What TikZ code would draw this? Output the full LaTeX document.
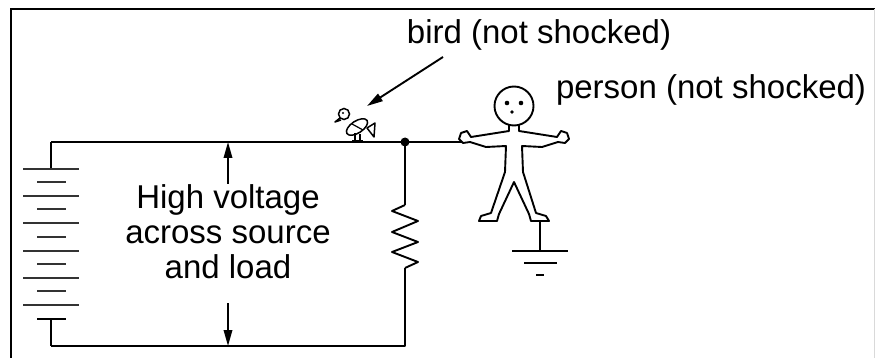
\documentclass[tikz,border=0pt]{standalone}
\usepackage{fontspec}
\setmainfont{Liberation Sans}
\usetikzlibrary{arrows.meta}
\begin{document}
\begin{tikzpicture}[x=1pt,y=-1pt,
  wire/.style={line width=1.9pt, line join=round},
  frameline/.style={line width=2.6pt},
  plate/.style={line width=2.3pt, draw=black!80},
  lbl/.style={font=\fontsize{33}{36}\selectfont, inner sep=0pt, anchor=base},
  tip/.style={-{Triangle[length=16pt,width=8.5pt]}},
  figure/.style={line width=1.9pt, line join=round, fill=white}]
\useasboundingbox (0,0) rectangle (875,358);

% frame
\draw[frameline] (11,358) -- (11,9) -- (875,9);
\draw[line width=1pt, black!15] (874,9) -- (874,358);

% named points of the circuit
\coordinate (batTop) at (51,142);
\coordinate (batBot) at (51,346);
\coordinate (junc) at (405,142);
\coordinate (rTop) at (405,205);
\coordinate (rBot) at (405,268);
\coordinate (cornerBR) at (405,346);
\coordinate (hand) at (462,142);
\coordinate (vTop) at (228,142);
\coordinate (vBot) at (228,346);
\coordinate (vUpStart) at (228,184);
\coordinate (vDnStart) at (228,303);

% battery stack
\draw[wire] (batTop) -- (51,169);
\foreach \y in {169,196,223,251,278,305} \draw[plate] (23,\y) -- (79,\y);
\foreach \y in {182,209,237,264,291} \draw[plate] (37,\y) -- (66,\y);
\draw[wire] (37,319) -- (66,319);
\draw[wire] (51,319) -- (batBot);

% wires
\draw[wire] (batTop) -- (junc) -- (hand);
\draw[wire] (batBot) -- (cornerBR) -- (rBot);
\draw[wire] (junc) -- (rTop);
\fill (junc) circle (4.5);

% resistor
\draw[wire] (rTop) -- (392,211) -- (418,221) -- (392,232) -- (418,242)
  -- (392,252) -- (418,262) -- (rBot);

% voltage arrows and label
\draw[wire, tip] (vUpStart) -- (vTop);
\draw[wire, tip] (vDnStart) -- (vBot);
\node[lbl] (v1) at (228,208) {High voltage};
\node[lbl] (v2) at (228,243) {across source};
\node[lbl] (v3) at (228,278) {and load};

% bird
\draw[line width=1.5pt, fill=white, rotate around={33:(357,127)}] (357,127) ellipse (12 and 6);
\draw[line width=1.5pt, fill=white, line join=round] (367,128) -- (375,123) -- (374,137) -- cycle;
\draw[line width=1.5pt, fill=white] (344,114) circle (5.5);
\draw[line width=1.5pt, line join=round] (340,118) -- (335,122) -- (341,120);
\fill (343,113) circle (1.2);
\draw[line width=1.2pt] (352,124) -- (363,130);
\draw[line width=1.5pt] (355,133) -- (355,142) (360,134) -- (360,142);
\draw[line width=1.5pt] (352,141) -- (363,141);

% bird label and pointer
\node[lbl] (birdlbl) at (539,44) {bird (not shocked)};
\coordinate (ptrStart) at (443,57);
\coordinate (ptrEnd) at (367,106);
\draw[wire, tip] (ptrStart) -- (ptrEnd);

% person
\draw[figure] (509,125) -- (509,131) -- (471,137) -- (467,131) -- (461,133)
  -- (459,139) -- (463,143) -- (470,142) -- (486,147) -- (506,146)
  -- (505,172) -- (491,213) -- (481,216) -- (479,221) -- (497,221)
  -- (499,214) -- (514,182) -- (529,214) -- (531,221) -- (549,221)
  -- (546,216) -- (536,213) -- (523,172) -- (522,146) -- (542,147)
  -- (558,142) -- (565,143) -- (569,139) -- (567,133) -- (561,131)
  -- (557,137) -- (519,131) -- (519,125);
\draw[figure] (514,106) circle (19.5);
\fill (507,103) circle (2.3) (521,103) circle (2.3) (512,112) circle (1.9);
\node[lbl] (personlbl) at (711,99) {person (not shocked)};

% ground
\coordinate (foot) at (540,221);
\coordinate (gnd) at (540,251);
\draw[wire] (foot) -- (gnd);
\draw[wire] (512,251) -- (568,251);
\draw[wire] (524,263) -- (557,263);
\draw[wire] (536,275) -- (544,275);
\end{tikzpicture}
\end{document}
